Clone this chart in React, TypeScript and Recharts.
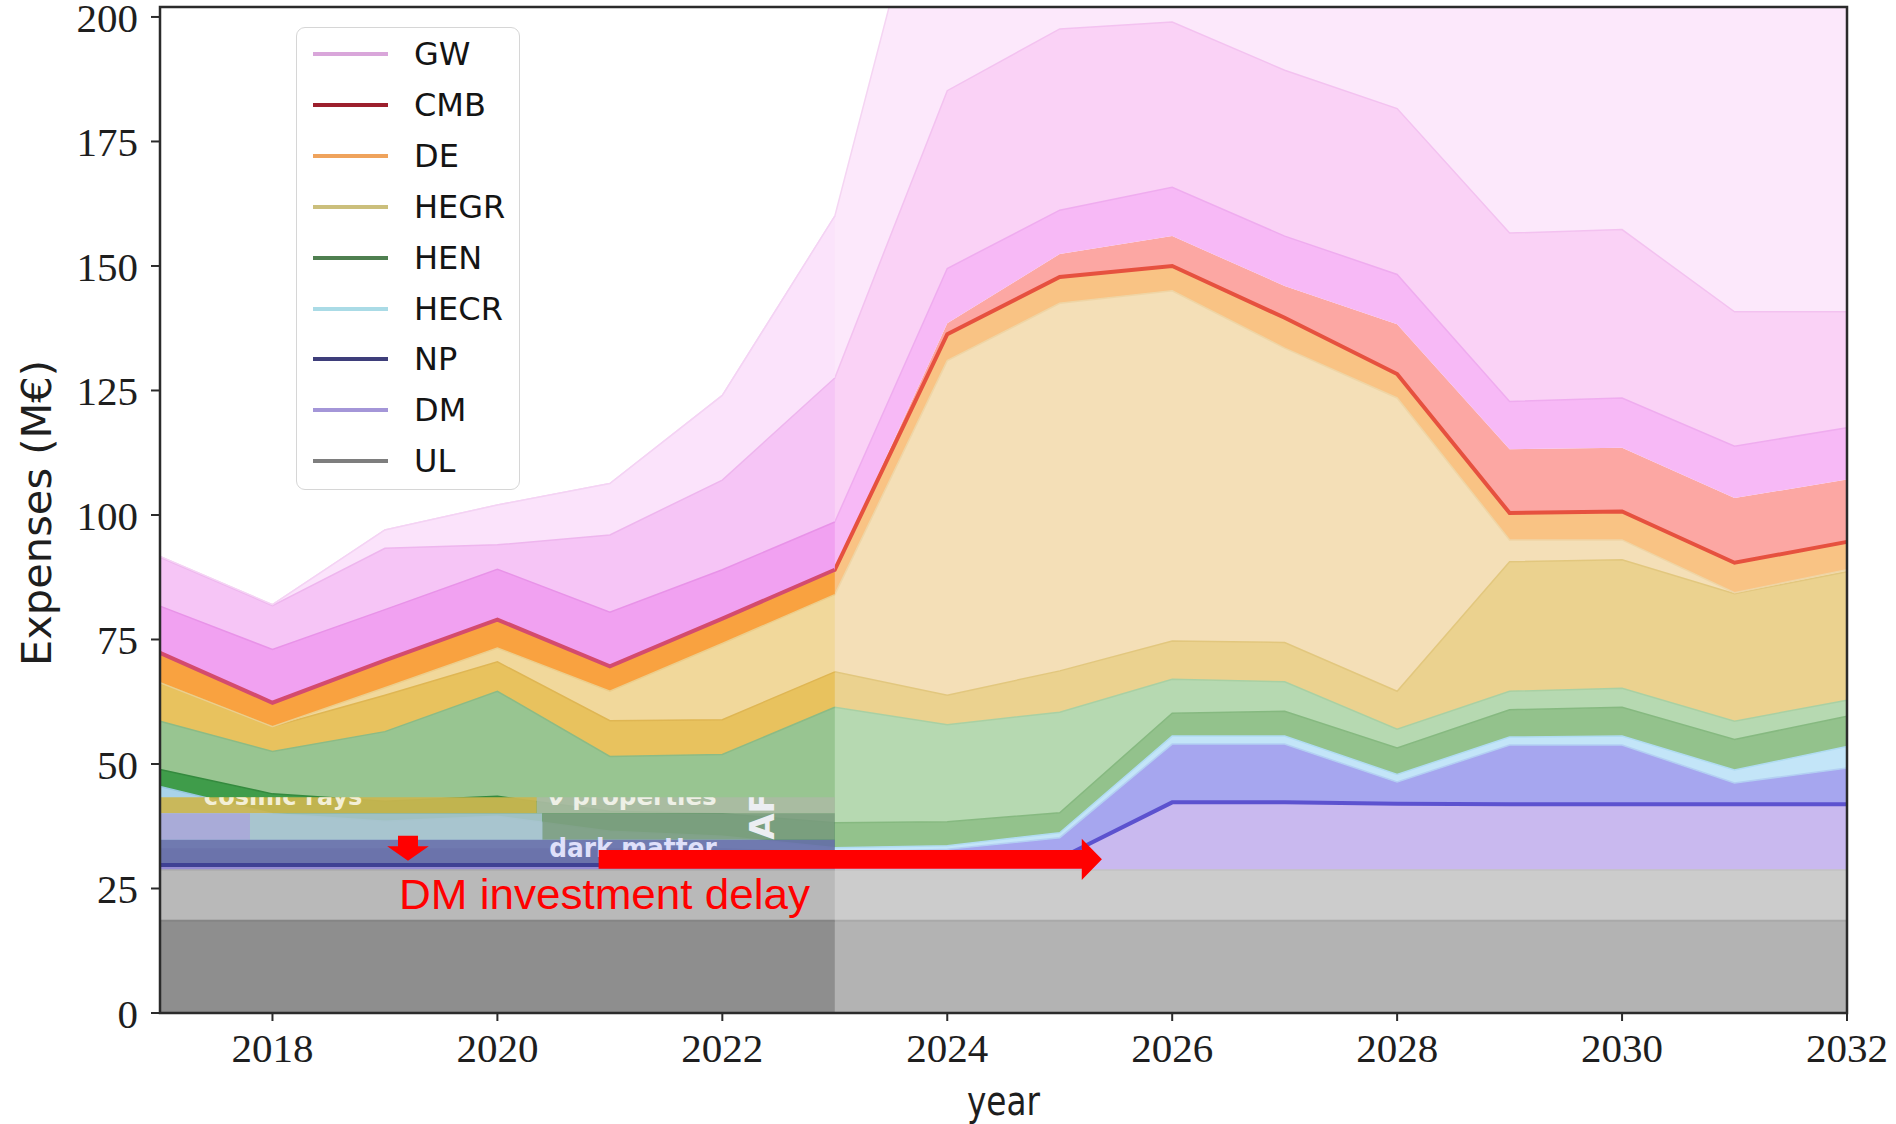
import React from 'react';
import { AreaChart, Area, XAxis, YAxis, Legend, ReferenceArea, Label } from 'recharts';

const SERIF = '"Liberation Serif", "DejaVu Serif", serif';
const SANS = '"DejaVu Sans", "Liberation Sans", sans-serif';

// ---------------- data (M€ per year, band thicknesses) ----------------
const years = [2017, 2018, 2019, 2020, 2021, 2022, 2023, 2024, 2025, 2026, 2027, 2028, 2029, 2030, 2031, 2032];
const ulBase = [18.5, 18.5, 18.5, 18.5, 18.5, 18.5, 18.5, 18.5, 18.5, 18.5, 18.5, 18.5, 18.5, 18.5, 18.5, 18.5];
const ulUpper = [10.2, 10.2, 10.2, 10.2, 10.2, 10.2, 10.2, 10.2, 10.2, 10.2, 10.2, 10.2, 10.2, 10.2, 10.2, 10.2];
const dmValues = [1.0, 1.0, 1.0, 1.0, 1.0, 1.0, 1.2, 1.5, 2.3, 13.6, 13.6, 13.3, 13.2, 13.2, 13.2, 13.2];
const npValues = [3.3, 3.3, 3.3, 3.3, 3.3, 3.3, 2.3, 2.7, 4.2, 11.7, 11.7, 4.4, 11.9, 11.9, 4.3, 7.3];
const hecrValues = [12.5, 7.0, 5.5, 6.5, 3.5, 2.5, 1.0, 0.7, 1.0, 1.6, 1.6, 1.5, 1.6, 1.8, 2.6, 4.3];
const henBase = [3.4, 4.0, 4.0, 4.0, 4.0, 4.5, 5.0, 4.8, 4.0, 4.6, 5.0, 5.3, 5.5, 5.8, 6.1, 6.1];
const henExtra = [9.7, 8.5, 14.0, 21.1, 11.0, 11.9, 23.2, 19.5, 20.2, 6.8, 5.9, 3.8, 3.7, 3.8, 3.7, 3.2];
const hegrBase = [7.7, 5.0, 7.3, 5.9, 7.2, 7.0, 7.1, 5.9, 8.3, 7.7, 7.9, 7.6, 26.0, 25.8, 25.6, 25.8];
const hegrExtra = [0, 0, 1.5, 2.8, 5.9, 15.3, 15.5, 67.2, 73.8, 70.3, 59.1, 58.9, 4.4, 4.0, 0.2, 0.4];
const deValues = [6.0, 4.8, 5.5, 5.7, 5.0, 5.0, 5.0, 5.3, 5.3, 5.0, 6.1, 4.8, 5.4, 5.7, 6.0, 5.6];
const cmbValues = [0, 0, 0, 0, 0, 0, 0, 2.2, 4.6, 6.0, 6.4, 10.0, 12.8, 12.8, 13.0, 12.5];
const gwBase = [9.4, 10.7, 10.2, 10.1, 10.9, 9.8, 9.6, 11.0, 8.8, 9.8, 10.0, 10.0, 9.6, 10.0, 10.4, 10.4];
const gwMid = [9.8, 8.8, 12.3, 4.9, 15.5, 18.0, 28.9, 35.7, 36.4, 33.2, 33.3, 33.3, 33.8, 33.8, 27.0, 23.3];
const gwTop = [0.2, 0.2, 3.7, 8.0, 10.3, 17.0, 32.5, 61.8, 52.4, 51.0, 60.7, 68.4, 93.4, 92.7, 109.2, 109.2];

const lastPastYear = 2023;
const yTicks = [0, 25, 50, 75, 100, 125, 150, 175, 200];
const xTicks = [2018, 2020, 2022, 2024, 2026, 2028, 2030, 2032];
const legendNames = ['GW', 'CMB', 'DE', 'HEGR', 'HEN', 'HECR', 'NP', 'DM', 'UL'];

// ---------------- styles ----------------
const legendColors = ['#d9a6da', '#9c1f2d', '#efa35c', '#cbbf7c', '#4f7f50', '#aadbe6', '#3e3e7a', '#a496d8', '#7e7e7e'];

const layers = [
  { key: 'ul1', fill: '#b3b3b3', pastFill: '#8e8e8e', edge: '#a9a9a9', pastEdge: '#858585', w: 2 },
  { key: 'ul2', fill: '#cccccc', pastFill: '#b9b9b9', edge: '#c3c3c3', pastEdge: '#adadad', w: 1.5 },
  { key: 'dm', fill: '#c9b9ef', pastFill: '#958bd2', edge: '#5c52cf', pastEdge: '#3f4194', w: 4 },
  { key: 'np', fill: '#a6a6ef', pastFill: '#6b72ad', edge: '#b3cff3', pastEdge: '#8088c0', w: 1.5 },
  { key: 'hecr', fill: '#c3e5f8', pastFill: '#a9d3ea', edge: '#b0dcf2', pastEdge: '#98c8e0', w: 1.5 },
  { key: 'hend', fill: '#93c28c', pastFill: '#3f9c4a', edge: '#86b980', pastEdge: '#348a3e', w: 1.5 },
  { key: 'henl', fill: '#b6d9b1', pastFill: '#98c591', edge: '#a9d0a3', pastEdge: '#8cbb85', w: 1.5 },
  { key: 'hegrg', fill: '#ebd28f', pastFill: '#e8c25e', edge: '#e2c77e', pastEdge: '#dfb653', w: 1.5 },
  { key: 'hegrl', fill: '#f4dfb7', pastFill: '#f1d89b', edge: '#efd5a5', pastEdge: '#ecce8c', w: 1.5 },
  { key: 'de', fill: '#f9c384', pastFill: '#f9a240', edge: '#e6513f', pastEdge: '#d44b6e', w: 4 },
  { key: 'cmb', fill: '#fca7a3', pastFill: '#f08080', edge: 'none', pastEdge: 'none', w: 0 },
  { key: 'gwp', fill: '#f7b9f6', pastFill: '#f1a1f1', edge: '#efacef', pastEdge: '#e893e8', w: 1.5 },
  { key: 'gwl', fill: '#fad2f6', pastFill: '#f6c5f6', edge: '#f3c2f0', pastEdge: '#eeb6ee', w: 1.5 },
  { key: 'gwx', fill: '#fce8fb', pastFill: '#fbe3fb', edge: '#f5d5f3', pastEdge: '#f4d3f4', w: 1.5 },
];

const rows = years.map((year, i) => ({
  year,
  ul1: ulBase[i], ul2: ulUpper[i], dm: dmValues[i], np: npValues[i], hecr: hecrValues[i],
  hend: henBase[i], henl: henExtra[i], hegrg: hegrBase[i], hegrl: hegrExtra[i],
  de: deValues[i], cmb: cmbValues[i], gwp: gwBase[i], gwl: gwMid[i], gwx: gwTop[i],
}));
const pastRows = rows.filter((r) => r.year <= lastPastYear);

// pasted strip of the earlier figure (data coordinates)
const stripBands = [
  { x1: 2017, x2: 2020.35, y1: 40.1, y2: 43.3, fill: '#cbb650' },
  { x1: 2020.35, x2: 2023, y1: 40.1, y2: 43.3, fill: '#aabba3' },
  { x1: 2017, x2: 2017.8, y1: 34.8, y2: 40.1, fill: '#a9a8d6' },
  { x1: 2017.8, x2: 2020.4, y1: 34.8, y2: 40.1, fill: '#a8c4cc' },
  { x1: 2020.4, x2: 2023, y1: 34.8, y2: 40.1, fill: '#7f9f82' },
  { x1: 2017, x2: 2023, y1: 30.1, y2: 34.8, fill: '#6c73ab' },
];
const stripLabels = [
  { id: 'cr', text: 'cosmic rays', x1: 2017.39, x2: 2018.8, y1: 40.1, y2: 43.3, color: '#f3efd6', size: 25, base: 7.4, rot: false },
  { id: 'nu', text: 'ν properties', x1: 2020.44, x2: 2021.95, y1: 40.1, y2: 43.3, color: '#eef0e6', size: 25, base: 7.4, rot: false },
  { id: 'dmx', text: 'dark matter', x1: 2020.46, x2: 2021.95, y1: 31.16, y2: 37.2, color: '#dfe0fa', size: 27, base: -1, rot: false },
  { id: 'af', text: 'AF', x1: 2022.21, x2: 2022.48, y1: 34.77, y2: 43.3, color: '#eceef2', size: 34, base: 0, rot: true },
];
const downArrowBox = { x1: 2019.02, x2: 2019.39, y1: 30.55, y2: 35.6 };
const rightArrowBox = { x1: 2020.9, x2: 2025.375, y1: 26.73, y2: 34.97 };
const delayTextBox = { x1: 2019.125, x2: 2022.779, y1: 20.9, y2: 26.9 };

// ---------------- renderers ----------------
function renderStack(past: boolean) {
  const fills = layers.map((l) => (
    <Area key={'f-' + l.key} type="linear" dataKey={l.key} stackId="fill" fill={past ? l.pastFill : l.fill}
      fillOpacity={1} stroke="none" isAnimationActive={false} dot={false} activeDot={false} />
  ));
  const edges = layers.map((l) => (
    <Area key={'e-' + l.key} type="linear" dataKey={l.key} stackId="edge" fill="none" fillOpacity={0}
      stroke={past ? l.pastEdge : l.edge} strokeWidth={l.w} isAnimationActive={false} dot={false} activeDot={false} />
  ));
  return [...fills, ...edges];
}

const makeLabelShape = (lab: any) => (props: any) => {
  const { x, y, width, height } = props;
  const id = 'clip-' + lab.id;
  if (lab.rot) {
    const bx = x + width - 2;
    const by = y + height;
    return (
      <g>
        <defs><clipPath id={id}><rect x={x - 6} y={y} width={width + 12} height={height + 4} /></clipPath></defs>
        <g clipPath={`url(#${id})`}>
          <text transform={`translate(${bx},${by}) rotate(-90)`} x={0} y={0} fill={lab.color}
            fontFamily={SANS} fontWeight="bold" fontSize={lab.size}>{lab.text}</text>
        </g>
      </g>
    );
  }
  return (
    <g>
      <defs><clipPath id={id}><rect x={x - 6} y={y} width={width + 12} height={height + 14} /></clipPath></defs>
      <text clipPath={`url(#${id})`} x={x} y={lab.base >= 0 ? y + lab.base : y + height + lab.base} fill={lab.color}
        fontFamily={SANS} fontWeight="bold" fontSize={lab.size} textLength={width} lengthAdjust="spacingAndGlyphs">{lab.text}</text>
    </g>
  );
};

const DownArrowShape = (props: any) => {
  const { x, y, width, height } = props;
  const sl = x + width * 0.26;
  const sr = x + width * 0.74;
  const neck = y + height * 0.42;
  const d = `M${sl},${y} L${sr},${y} L${sr},${neck} L${x + width},${neck} L${x + width / 2},${y + height} L${x},${neck} L${sl},${neck} Z`;
  return <path d={d} fill="#ff0000" />;
};

const RightArrowShape = (props: any) => {
  const { x, y, width, height } = props;
  const head = width * 0.04;
  const st = y + height * 0.27;
  const sb = y + height * 0.73;
  const d = `M${x},${st} L${x + width - head},${st} L${x + width - head},${y} L${x + width},${y + height / 2} L${x + width - head},${y + height} L${x + width - head},${sb} L${x},${sb} Z`;
  return <path d={d} fill="#ff0000" />;
};

const DelayTextShape = (props: any) => (
  <text x={props.x} y={props.y + props.height} fill="#ff0000" fontFamily='"Liberation Sans", Arial, sans-serif'
    fontSize={43} textLength={props.width} lengthAdjust="spacingAndGlyphs">DM investment delay</text>
);

const renderLegend = () => (
  <div style={{ position: 'relative', width: 224, height: 463, boxSizing: 'border-box', border: '1.5px solid #d6d6d6', borderRadius: 9, background: 'rgba(255,255,255,0.88)' }}>
    {legendNames.map((name, i) => (
      <div key={name} style={{ position: 'absolute', left: 0, top: 1 + i * 50.9, width: '100%', height: 50 }}>
        <div style={{ position: 'absolute', left: 16, top: 23, width: 75, height: 4, background: legendColors[i] }} />
        <div style={{ position: 'absolute', left: 117, top: 0, height: 50, lineHeight: '50px', fontFamily: SANS, fontSize: 32, color: '#141414', whiteSpace: 'nowrap' }}>{name}</div>
      </div>
    ))}
  </div>
);

const renderXLabel = (props: any) => {
  const vb = props.viewBox || { x: 160, y: 1013, width: 1687, height: 111 };
  return (
    <text x={vb.x + vb.width / 2} y={vb.y + 102} textAnchor="middle" fill="#1e1e1e" fontFamily={SANS} fontSize={40}
      textLength={73} lengthAdjust="spacingAndGlyphs">year</text>
  );
};

const renderYLabel = (props: any) => {
  const vb = props.viewBox || { x: 0, y: 7, width: 160, height: 1006 };
  const cx = vb.x + 37;
  const cy = vb.y + vb.height / 2 + 3;
  return (
    <text x={cx} y={cy} transform={`rotate(-90 ${cx} ${cy})`} textAnchor="middle" dominantBaseline="central"
      fill="#1e1e1e" fontFamily={SANS} fontSize={40} textLength={306} lengthAdjust="spacingAndGlyphs">Expenses (M€)</text>
  );
};

const W = 1896;
const H = 1124;

export default function App() {
  return (
    <div style={{ position: 'absolute', left: 0, top: 0, width: W, height: H, background: '#ffffff', overflow: 'hidden' }}>
      <div style={{ position: 'absolute', left: 0, top: 0 }}>
        <AreaChart width={W} height={H} data={rows} margin={{ top: 7, right: 49, left: 0, bottom: 0 }}>
          <XAxis dataKey="year" type="number" domain={[2017, 2032]} ticks={xTicks} interval={0} height={111}
            tick={{ fontFamily: SERIF, fontSize: 41, fill: '#1e1e1e' }} tickSize={8} tickMargin={12}
            axisLine={{ stroke: '#2b2b2b', strokeWidth: 2 }} tickLine={{ stroke: '#2b2b2b', strokeWidth: 2 }}>
            <Label content={renderXLabel} />
          </XAxis>
          <YAxis type="number" domain={[0, 202]} ticks={yTicks} interval={0} allowDataOverflow width={160}
            tick={{ fontFamily: SERIF, fontSize: 41, fill: '#1e1e1e' }} tickSize={9} tickMargin={13}
            axisLine={{ stroke: '#2b2b2b', strokeWidth: 2 }} tickLine={{ stroke: '#2b2b2b', strokeWidth: 2 }}>
            <Label content={renderYLabel} />
          </YAxis>
          {renderStack(false)}
        </AreaChart>
      </div>
      <div style={{ position: 'absolute', left: 0, top: 0 }}>
        <AreaChart width={W} height={H} data={pastRows} margin={{ top: 7, right: 49, left: 160, bottom: 111 }}>
          <XAxis dataKey="year" type="number" domain={[2017, 2032]} hide />
          <YAxis type="number" domain={[0, 202]} allowDataOverflow hide />
          {renderStack(true)}
          {stripBands.map((b, i) => (
            <ReferenceArea key={'sb' + i} x1={b.x1} x2={b.x2} y1={b.y1} y2={b.y2} fill={b.fill} fillOpacity={0.93} stroke="none" />
          ))}
          {stripLabels.map((lab) => (
            <ReferenceArea key={'sl' + lab.id} x1={lab.x1} x2={lab.x2} y1={lab.y1} y2={lab.y2} fill="none" stroke="none" shape={makeLabelShape(lab)} />
          ))}
          <ReferenceArea x1={downArrowBox.x1} x2={downArrowBox.x2} y1={downArrowBox.y1} y2={downArrowBox.y2} shape={DownArrowShape} />
          <ReferenceArea x1={rightArrowBox.x1} x2={rightArrowBox.x2} y1={rightArrowBox.y1} y2={rightArrowBox.y2} shape={RightArrowShape} />
          <ReferenceArea x1={delayTextBox.x1} x2={delayTextBox.x2} y1={delayTextBox.y1} y2={delayTextBox.y2} shape={DelayTextShape} />
          <ReferenceArea x1={2017} x2={2032} y1={0} y2={202} fill="none" fillOpacity={0} stroke="#2b2b2b" strokeWidth={2.5} />
          <Legend layout="vertical" align="center" verticalAlign="middle" content={renderLegend}
            wrapperStyle={{ position: 'absolute', left: 296, top: 27, width: 224, height: 463 }} />
        </AreaChart>
      </div>
    </div>
  );
}
